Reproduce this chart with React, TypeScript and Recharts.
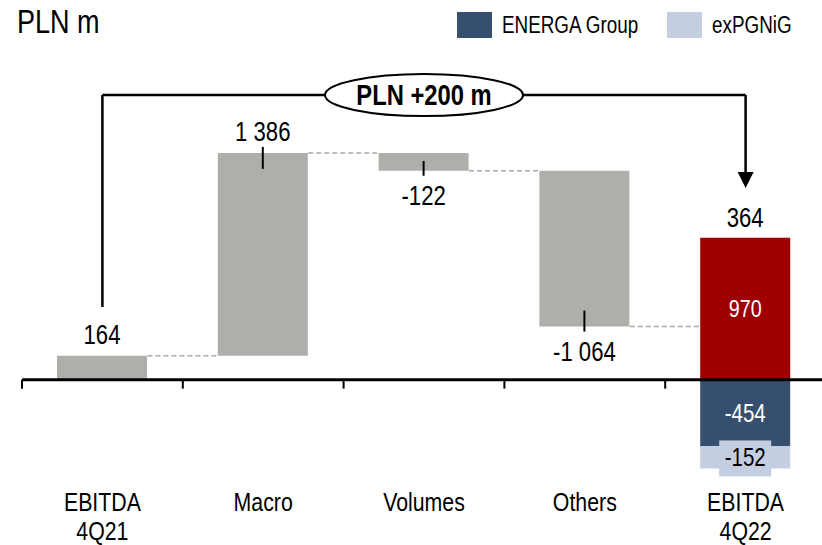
import React from "react";
import {
  ComposedChart,
  Bar,
  Cell,
  XAxis,
  YAxis,
  ReferenceLine,
  ReferenceDot,
  LabelList,
} from "recharts";

// ---- data ----
const categories = ["EBITDA\n4Q21", "Macro", "Volumes", "Others", "EBITDA\n4Q22"];
// starting EBITDA followed by the bridge changes
const steps = [164, 1386, -122, -1064];
// breakdown of the closing bar: rest of group, ENERGA Group, exPGNiG
const closingParts = [970, -454, -152];
const seriesNames = ["ENERGA Group", "exPGNiG"];

// annotation levels (PLN m)
const BRACKET_LEVEL = 1945;
const LEFT_LEG_END = 498;
const ARROW_TIP = 1311;
const Y_DOMAIN = [-800, 2000];

const FONT = "'Liberation Sans', Arial, sans-serif";
const NARROW = 0.82;
const GREY = "#AEAFAA";
const RED = "#9E0000";
const NAVY = "#374F6E";
const LIGHT = "#C3CEE1";
const seriesColors = [NAVY, LIGHT];

const BAR_SIZE = 90;
const STEP_PX = 160.8;
const HALF_BAR = BAR_SIZE / 2 / STEP_PX;

// ---- build waterfall rows ----
let running = 0;
const levels: number[] = [];
const rows = categories.map((name, i) => {
  const pos = i + 0.5;
  if (i < steps.length) {
    const start = running;
    const end = running + steps[i];
    running = end;
    levels.push(end);
    return { name, pos, base: Math.min(start, end), delta: Math.abs(steps[i]), change: steps[i], energa: 0, pgnig: 0 };
  }
  return { name, pos, base: 0, delta: closingParts[0], change: running, energa: closingParts[1], pgnig: closingParts[2] };
});
const startTotal = steps[0];
const endTotal = closingParts.reduce((a, b) => a + b, 0);
const lastPos = rows[rows.length - 1].pos;

const fmt = (v: number) =>
  (v < 0 ? "-" : "") + String(Math.abs(v)).replace(/\B(?=(\d{3})+(?!\d))/g, " ");

// narrow (Arial Narrow-like) text
const NText = ({ x, y, size, fill = "#000", weight, anchor = "middle", children }: any) => (
  <text
    transform={`translate(${x},${y}) scale(${NARROW},1)`}
    x={0}
    y={0}
    textAnchor={anchor}
    fontSize={size}
    fontWeight={weight}
    fontFamily={FONT}
    fill={fill}
  >
    {children}
  </text>
);

const CategoryTick = ({ x, y, payload }: any) => {
  const name = categories[Math.floor(payload.value)] || "";
  const lines = name.split("\n");
  return (
    <text
      transform={`translate(${x},${y}) scale(${NARROW},1)`}
      x={0}
      y={0}
      textAnchor="middle"
      fontSize={26}
      fontFamily={FONT}
      fill="#000"
    >
      {lines.map((l, i) => (
        <tspan key={i} x={0} dy={i === 0 ? 14 : 29}>
          {l}
        </tspan>
      ))}
    </text>
  );
};

const DeltaLabel = (props: any) => {
  const { x, y, width, height, index } = props;
  const row = rows[index];
  if (!row) return null;
  const cx = x + width / 2;
  const top = Math.min(y, y + height);
  const bottom = Math.max(y, y + height);
  if (index === rows.length - 1) {
    return (
      <g>
        <NText x={cx} y={top - 11} size={27}>{fmt(row.change)}</NText>
        <NText x={cx} y={(top + bottom) / 2 + 8} size={24} fill="#fff">{fmt(row.delta)}</NText>
      </g>
    );
  }
  const up = row.change >= 0;
  const showTick = index > 0;
  if (up) {
    return (
      <g>
        {showTick && <line x1={cx} x2={cx} y1={top - 6} y2={top + 16} stroke="#000" strokeWidth={2} />}
        <NText x={cx} y={top - 12} size={27}>{fmt(row.change)}</NText>
      </g>
    );
  }
  const tickLen = Math.min(16, (bottom - top) * 0.55);
  return (
    <g>
      <line x1={cx} x2={cx} y1={bottom - tickLen} y2={bottom + 5} stroke="#000" strokeWidth={2} />
      <NText x={cx} y={bottom + 34} size={27}>{fmt(row.change)}</NText>
    </g>
  );
};

const PartLabel = (color: string, boxFill?: string) => (props: any) => {
  const { x, y, width, height, value } = props;
  if (!value) return null;
  const cx = x + width / 2;
  const top = Math.min(y, y + height);
  const bottom = Math.max(y, y + height);
  const cy = (top + bottom) / 2;
  return (
    <g>
      {boxFill && <rect x={cx - 26} y={cy - 17} width={52} height={36} fill={boxFill} />}
      <NText x={cx} y={cy + 9} size={25} fill={color}>{fmt(value)}</NText>
    </g>
  );
};

const Bubble = (props: any) => {
  const { cx, cy } = props;
  return (
    <g>
      <ellipse cx={cx} cy={cy} rx={99} ry={21} fill="#fff" stroke="#000" strokeWidth={2} />
      <NText x={cx} y={cy + 10} size={29} weight="bold">{`PLN +${endTotal - startTotal} m`}</NText>
    </g>
  );
};

const ArrowHead = (props: any) => {
  const { cx, cy } = props;
  return <polygon points={`${cx},${cy} ${cx - 8},${cy - 16} ${cx + 8},${cy - 16}`} fill="#000" />;
};

export default function App() {
  return (
    <div style={{ position: "absolute", left: 0, top: 0, width: 822, height: 545, background: "#fff", overflow: "hidden" }}>
      <ComposedChart
        width={822}
        height={545}
        data={rows}
        stackOffset="sign"
        margin={{ top: 87, right: -4, left: 22, bottom: 0 }}
      >
        <XAxis
          dataKey="pos"
          type="number"
          domain={[0, categories.length]}
          allowDataOverflow
          ticks={rows.map((r) => r.pos)}
          axisLine={false}
          tickLine={false}
          tickSize={0}
          tickMargin={0}
          height={48}
          interval={0}
          tick={<CategoryTick />}
        />
        <YAxis hide domain={Y_DOMAIN} allowDataOverflow />

        <Bar dataKey="base" stackId="w" fill="transparent" barSize={BAR_SIZE} isAnimationActive={false} legendType="none" />
        <Bar dataKey="delta" stackId="w" barSize={BAR_SIZE} isAnimationActive={false} legendType="none">
          {rows.map((_, i) => (
            <Cell key={i} fill={i === rows.length - 1 ? RED : GREY} />
          ))}
          <LabelList dataKey="delta" content={<DeltaLabel />} />
        </Bar>
        <Bar dataKey="energa" name={seriesNames[0]} stackId="w" fill={NAVY} barSize={BAR_SIZE} isAnimationActive={false}>
          <LabelList dataKey="energa" content={PartLabel("#fff")} />
        </Bar>
        <Bar dataKey="pgnig" name={seriesNames[1]} stackId="w" fill={LIGHT} barSize={BAR_SIZE} isAnimationActive={false}>
          <LabelList dataKey="pgnig" content={PartLabel("#000", LIGHT)} />
        </Bar>

        {/* dashed connectors between bars */}
        {levels.map((lv, i) => (
          <ReferenceLine
            key={`c${i}`}
            ifOverflow="visible"
            segment={[
              { x: rows[i].pos + HALF_BAR, y: lv },
              { x: rows[i + 1].pos - HALF_BAR, y: lv },
            ]}
            stroke="#A8A8A8"
            strokeWidth={1.5}
            strokeDasharray="5 3"
          />
        ))}

        {/* zero axis with boundary ticks */}
        <ReferenceLine y={0} stroke="#000" strokeWidth={3} />
        {categories.map((_, i) => (
          <ReferenceLine
            key={`t${i}`}
            ifOverflow="visible"
            segment={[
              { x: i, y: 0 },
              { x: i, y: -60 },
            ]}
            stroke="#000"
            strokeWidth={2}
          />
        ))}

        {/* bracket */}
        <ReferenceLine
          ifOverflow="visible"
          segment={[
            { x: rows[0].pos, y: LEFT_LEG_END },
            { x: rows[0].pos, y: BRACKET_LEVEL },
          ]}
          stroke="#000"
          strokeWidth={2.5}
        />
        <ReferenceLine
          ifOverflow="visible"
          segment={[
            { x: rows[0].pos, y: BRACKET_LEVEL },
            { x: lastPos, y: BRACKET_LEVEL },
          ]}
          stroke="#000"
          strokeWidth={2.5}
        />
        <ReferenceLine
          ifOverflow="visible"
          segment={[
            { x: lastPos, y: BRACKET_LEVEL },
            { x: lastPos, y: ARROW_TIP + 100 },
          ]}
          stroke="#000"
          strokeWidth={2.5}
        />
        <ReferenceDot ifOverflow="visible" x={lastPos} y={ARROW_TIP} shape={<ArrowHead />} />
        <ReferenceDot ifOverflow="visible" x={categories.length / 2} y={BRACKET_LEVEL} shape={<Bubble />} />
      </ComposedChart>

      <svg width={822} height={60} style={{ position: "absolute", left: 0, top: 0 }}>
        <NText x={17} y={33} size={33} anchor="start">PLN m</NText>
        {seriesNames.map((n, i) => {
          const x0 = i === 0 ? 457 : 667;
          return (
            <g key={n}>
              <rect x={x0} y={12} width={35} height={26} fill={seriesColors[i]} />
              <NText x={x0 + 45} y={33} size={23} anchor="start">{n}</NText>
            </g>
          );
        })}
      </svg>
    </div>
  );
}
